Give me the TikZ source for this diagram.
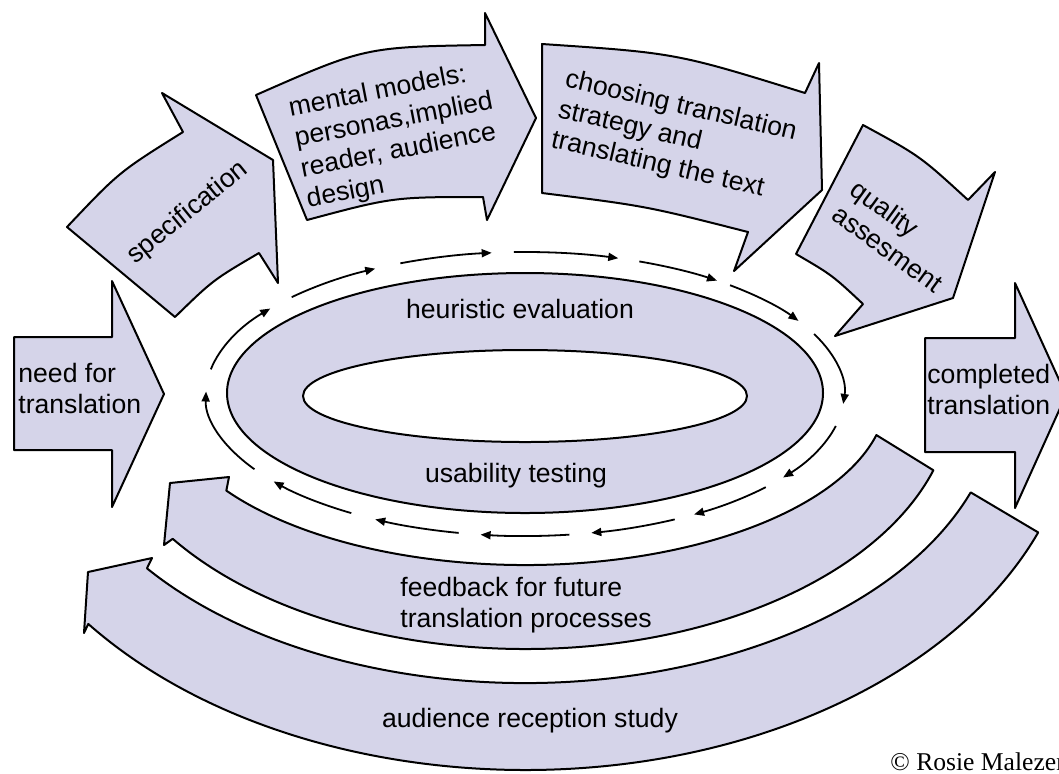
\documentclass[tikz,border=0pt]{standalone}
\usepackage{fontspec}
\setmainfont{Liberation Sans}
\newfontfamily\creditfont{Liberation Serif}
\usetikzlibrary{arrows.meta}
\definecolor{bandfill}{RGB}{213,212,233}

\begin{document}
\begin{tikzpicture}[x=0.5pt, y=-0.5pt, line join=round,
    band/.style={draw=black, fill=bandfill, line width=1pt},
    lbl/.style={font=\fontsize{13.3pt}{15.5pt}\selectfont, inner sep=0pt},
    flow/.style={line width=0.9pt, -{Triangle[length=5pt, width=4pt]}}]
    \path[use as bounding box, fill=white] (0,0) rectangle (1059,773);
    \clip (0,0) rectangle (1059,773);
    \coordinate (c) at (525,394);

    % Straight arrows: in on the left, out on the right
    \draw[band] (14,337) -- (112,337) -- (112,281) -- (164,394) -- (112,507) -- (112,450) -- (14,450) -- cycle;
    \draw[band] (925,338) -- (1015,338) -- (1015,283) -- (1066,395) -- (1015,508) -- (1015,452) -- (925,452) -- cycle;

    % Curved arrows over the top
    \draw[band] (67,227) .. controls (119,172) .. (183,132) -- (162,93) -- (273,160) -- (278,283) -- (259,253) .. controls (213,280) .. (175,317) -- cycle;
    \draw[band] (256,95) .. controls (365,47) .. (485,45) -- (485,13) -- (536,118) -- (487,220) -- (483,197) .. controls (393,197) .. (307,220) -- cycle;
    \draw[band] (542,44) .. controls (676,53) .. (805,93) -- (819,63) -- (822,190) -- (734,271) -- (748,232) .. controls (646,206) .. (542,193) -- cycle;
    \draw[band] (863,125) .. controls (920,156) .. (968,200) -- (995,172) -- (953,298) -- (835,336) -- (863,304) .. controls (832,275) .. (796,254) -- cycle;

    % Central ring
    \path[band, even odd rule] (525,393) ellipse [x radius=298, y radius=120] (525,396) ellipse [x radius=222, y radius=46];

    % Dashed loop round the ring
    \foreach \a/\b in {148/181, 190/217, 223/242, 247/264, 268/287, 291/307, 310/329, 335/364, 373/396, 401/418, 422/438, 442/458, 462/478, 483/502}
        \draw[flow] ([shift={(\a:319 and 142)}]c) arc[start angle=\a, end angle=\b, x radius=319, y radius=142];

    % Feedback arcs underneath
    \draw[band] ([shift={(13.9:362 and 171)}]c) arc[start angle=13.9, end angle=145.6, x radius=362, y radius=171] -- (229,477) -- (170,483) -- (164,545) -- ([shift={(145.4:428 and 255)}]c) arc[start angle=145.4, end angle=17.4, x radius=428, y radius=255] -- cycle;
    \draw[band] ([shift={(19.9:474 and 289)}]c) arc[start angle=19.9, end angle=142.9, x radius=474, y radius=289] -- (152,558) -- (88,572) -- (84,633) -- ([shift={(142.3:552 and 376)}]c) arc[start angle=142.3, end angle=21.6, x radius=552, y radius=376] -- cycle;

    % Labels
    \node[lbl, align=left, anchor=west] (need) at (18,388) {need for\\translation};
    \node[lbl, align=left, anchor=west] (done) at (927,389) {completed\\translation};
    \node[lbl, rotate=39] (spec) at (188,213) {specification};
    \node[lbl, align=left, rotate=11] (models) at (397,136) {mental models:\\personas,implied\\reader, audience\\design};
    \node[lbl, align=left, rotate=-13] (strategy) at (674,137) {choosing translation\\strategy and\\translating the text};
    \node[lbl, align=left, rotate=-36] (quality) at (897,236) {quality\\assesment};
    \node[lbl] (heur) at (520,309) {heuristic evaluation};
    \node[lbl] (usab) at (516,476) {usability testing};
    \node[lbl, align=left, anchor=west] (feedback) at (400,605) {feedback for future\\translation processes};
    \node[lbl] (reception) at (530,721) {audience reception study};
    \node[anchor=base west, inner sep=0pt, font=\creditfont\fontsize{12.8pt}{15pt}\selectfont] (credit) at (890,770) {© Rosie Malezer};
\end{tikzpicture}
\end{document}
